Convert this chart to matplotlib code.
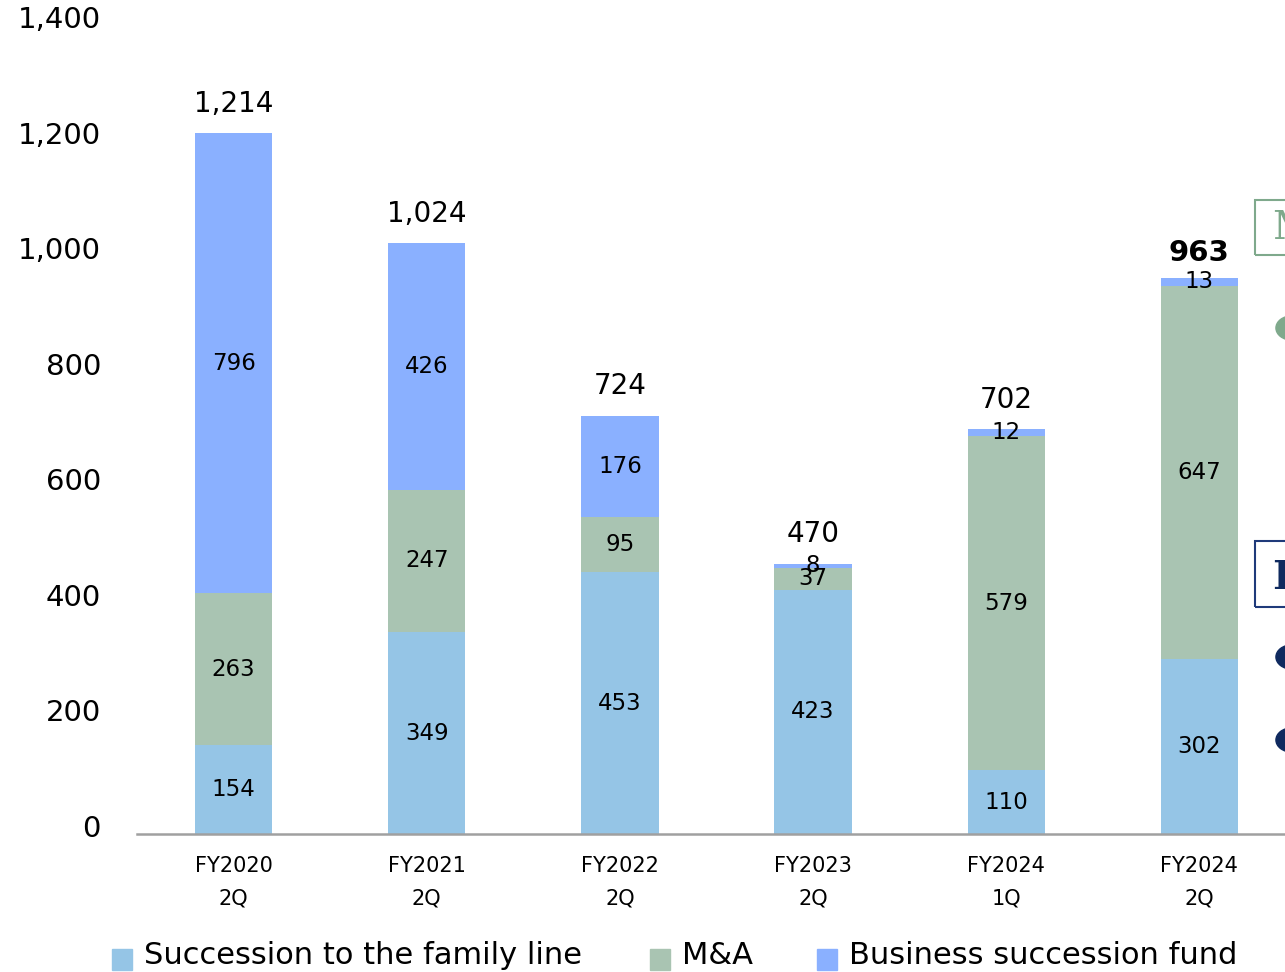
import matplotlib
matplotlib.use("Agg")
import matplotlib.pyplot as plt
from matplotlib.patches import Rectangle, Circle
from matplotlib.transforms import ScaledTranslation
import numpy as np

categories = ["FY2020\n2Q", "FY2021\n2Q", "FY2022\n2Q", "FY2023\n2Q", "FY2024\n1Q", "FY2024\n2Q"]
family_line = [154, 349, 453, 423, 110, 302]
m_and_a = [263, 247, 95, 37, 579, 647]
fund = [796, 426, 176, 8, 12, 13]
totals = [1214, 1024, 724, 470, 702, 963]
series_names = ["Succession to the family line", "M&A", "Business succession fund"]
yticks = [0, 200, 400, 600, 800, 1000, 1200, 1400]

colors = ["#95C5E6", "#A9C4B2", "#8AB0FF"]

plt.rcParams['font.family'] = ['DejaVu Sans']
fig = plt.figure(figsize=(12.85, 9.72), dpi=100)
ax = fig.add_axes([137/1285, 138/972, 1159/1285, 809/972])

x = np.arange(len(categories))
width = 0.40
series = [family_line, m_and_a, fund]
bottom = np.zeros(len(categories))
for vals, col in zip(series, colors):
    vals = np.array(vals, dtype=float)
    ax.bar(x, vals, width, bottom=bottom, color=col, edgecolor='none', zorder=2)
    for xi, b, v in zip(x, bottom, vals):
        ax.text(xi, b + v / 2, f"{int(v)}", ha='center', va='center', fontsize=16.5, color='black', zorder=3)
    bottom = bottom + vals

for i, (xi, top, t) in enumerate(zip(x, bottom, totals)):
    if i == len(totals) - 1:
        ax.annotate(f"{t:,}", (xi, top), xytext=(0, 18), textcoords='offset points',
                    ha='center', va='center', fontsize=21, fontweight='bold')
    else:
        ax.annotate(f"{t:,}", (xi, top), xytext=(0, 21), textcoords='offset points',
                    ha='center', va='center', fontsize=20)

ax.set_xlim(-0.5, len(categories) - 0.5)
ax.set_ylim(0, 1400)
ax.set_yticks(yticks)
ax.set_yticklabels([f"{v:,}" for v in yticks], fontsize=21)
ax.set_xticks(x)
ax.set_xticklabels(categories, fontsize=15, linespacing=1.78)
ax.tick_params(axis='y', length=0, pad=26)
ax.tick_params(axis='x', length=0, pad=16)
shift = ScaledTranslation(0, 5 / 100, fig.dpi_scale_trans)
for tick in ax.yaxis.get_major_ticks():
    tick.label1.set_verticalalignment('center')
    tick.label1.set_transform(tick.label1.get_transform() + shift)
for s in ['top', 'right', 'left']:
    ax.spines[s].set_visible(False)
ax.spines['bottom'].set_color('#A0A0A0')
ax.spines['bottom'].set_linewidth(1.8)

# legend drawn manually
leg_x = [112, 650, 817]
for name, col, lx in zip(series_names, colors, leg_x):
    fig.patches.append(Rectangle((lx / 1285, (972 - 970) / 972), 20 / 1285, 21 / 972,
                                 transform=fig.transFigure, color=col, figure=fig))
    fig.text((lx + 32) / 1285, (972 - 955) / 972, name, fontsize=22, va='center', ha='left')

# cut-off side annotations at right edge
fig.patches.append(Rectangle((1255 / 1285, (972 - 255) / 972), 60 / 1285, 55 / 972,
                             transform=fig.transFigure, fill=False, edgecolor='#7FA98C', lw=1.5, figure=fig))
fig.text(1272 / 1285, (972 - 228) / 972, "M", fontsize=28, family='DejaVu Serif', color='#7FA98C', va='center', ha='left')
fig.patches.append(Rectangle((1255 / 1285, (972 - 607) / 972), 60 / 1285, 66 / 972,
                             transform=fig.transFigure, fill=False, edgecolor='#1F3A7A', lw=1.5, figure=fig))
fig.text(1272 / 1285, (972 - 578) / 972, "F", fontsize=28, family='DejaVu Serif', fontweight='bold', color='#0F2A5F', va='center', ha='left')
for cy, cc in [(328, '#7FA98C'), (657, '#0F2A5F'), (740, '#0F2A5F')]:
    fig.patches.append(Circle((1292 / 1285, (972 - cy) / 972), 0.0125, transform=fig.transFigure,
                              color=cc, figure=fig))

fig.savefig("out.png", dpi=100)
